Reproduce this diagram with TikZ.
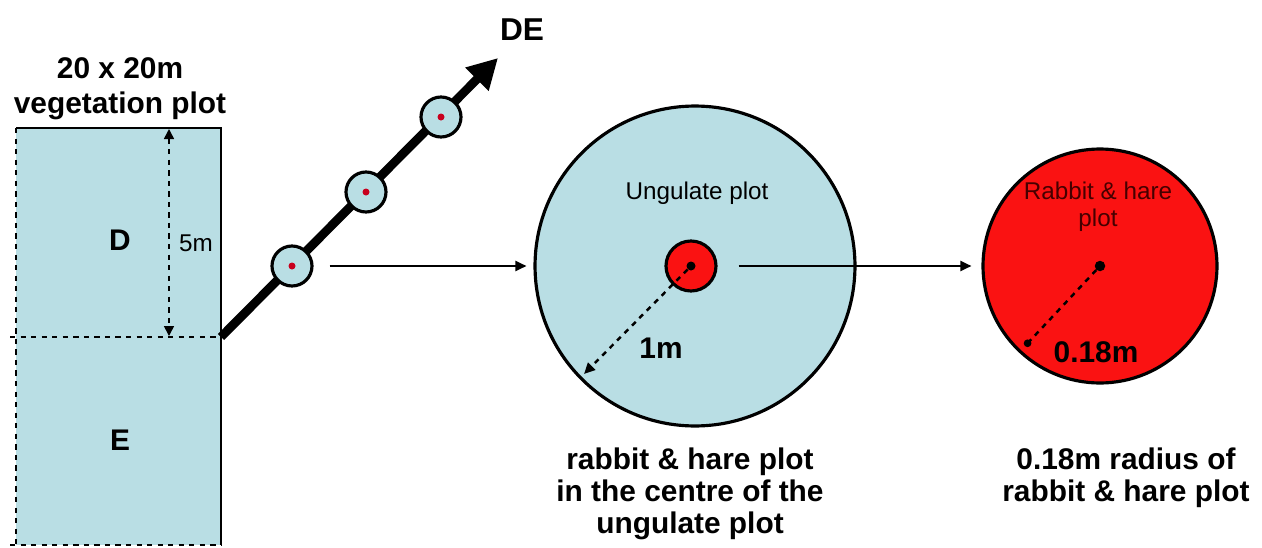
\documentclass[tikz,border=0pt]{standalone}
\usepackage{fontspec}
\setmainfont{Liberation Sans}
\usetikzlibrary{arrows.meta, positioning, calc}
\definecolor{plotblue}{RGB}{185, 222, 228}
\definecolor{harered}{RGB}{250, 18, 18}
\definecolor{dotred}{RGB}{200, 0, 30}
\definecolor{darkred}{RGB}{70, 0, 0}

\begin{document}
\begin{tikzpicture}[x=0.02cm, y=-0.02cm,
  bigtext/.style={font=\fontsize{17pt}{18.2pt}\selectfont\bfseries, align=center},
  smalltext/.style={font=\fontsize{13.8pt}{15.4pt}\selectfont, align=center},
  subplot/.style={circle, draw, line width=1.8pt, fill=plotblue, minimum size=0.8cm, inner sep=0pt},
  reddot/.style={circle, fill=dotred, minimum size=0.14cm, inner sep=0pt},
  blackdot/.style={circle, fill=black, minimum size=0.18cm, inner sep=0pt},
  link/.style={-{Triangle[length=0.22cm, width=0.2cm]}, line width=1.1pt},
  radline/.style={dashed, line width=1.4pt}
]
  \useasboundingbox (0,0) rectangle (1262,548);

  \fill[plotblue] (16,128) rectangle (221,545);
  \draw[line width=0.7pt] (16,128) -- (221,128) -- (221,545);
  \draw[dashed, line width=0.9pt] (16,128) -- (16,548);
  \draw[dashed, line width=0.9pt] (10,337) -- (221,337);
  \draw[dashed, line width=0.9pt] (10,545) -- (221,545);

  \node[bigtext] (title) at (120,89) {20 x 20m\\[1.7pt]vegetation plot};
  \node[bigtext] (D) at (120,240) {D};
  \node[bigtext] (E) at (120,440) {E};

  \coordinate (sTop) at (169,129);
  \coordinate (sBot) at (169,336);
  \draw[dashed, line width=0.9pt, {Triangle[length=0.2cm, width=0.2cm]}-{Triangle[length=0.2cm, width=0.2cm]}] (sTop) -- (sBot);
  \node[smalltext] (five) at (196,243) {5m};

  \coordinate (start) at (221,337);
  \coordinate (tip) at (498,58);
  \draw[line width=5pt, -{Triangle[length=0.6cm, width=0.62cm]}] (start) -- (tip);
  \node[bigtext, font=\fontsize{18pt}{20pt}\selectfont\bfseries] (DE) at (522,30) {DE};

  \node[subplot] (s1) at (292,266) {};
  \node[subplot] (s2) at (366,192) {};
  \node[subplot] (s3) at (441,117) {};
  \node[reddot] at (s1) {};
  \node[reddot] at (s2) {};
  \node[reddot] at (s3) {};

  \node[circle, draw, line width=1.8pt, fill=plotblue, minimum size=6.4cm, inner sep=0pt] (ungulate) at (695,266) {};
  \node[smalltext] (ungText) at (697,193) {Ungulate plot};
  \node[circle, draw, line width=1.8pt, fill=harered, minimum size=1cm, inner sep=0pt] (hare) at (691,266) {};
  \node[blackdot] (hc) at (hare) {};
  \coordinate (oneTip) at (584,374);
  \draw[radline, -{Triangle[length=0.22cm, width=0.2cm]}] (hc) -- (oneTip);
  \node[bigtext] (one) at (661,348) {1m};

  \node[circle, draw, line width=1.8pt, fill=harered, minimum size=4.68cm, inner sep=0pt] (rabbit) at (1100,266) {};
  \node[smalltext, text=darkred] (rabText) at (1098,207) {Rabbit \& hare\\plot};
  \node[blackdot, minimum size=0.21cm] (rc) at (rabbit) {};
  \coordinate (rabEdge) at (1025,346);
  \draw[radline, -{Circle[length=0.15cm]}] (rc) -- (rabEdge);
  \node[bigtext] (eighteen) at (1096,352) {0.18m};

  \draw[link, shorten <=0.32cm, shorten >=0.14cm] (s1.east) -- (ungulate.west);
  \draw[link, shorten <=0.42cm, shorten >=0.2cm] (hare.east) -- (rabbit.west);

  \node[bigtext] (ungNote) at (690,494) {rabbit \& hare plot\\in the centre of the\\ungulate plot};
  \node[bigtext] (rabNote) at (1126,478) {0.18m radius of\\rabbit \& hare plot};
\end{tikzpicture}
\end{document}
